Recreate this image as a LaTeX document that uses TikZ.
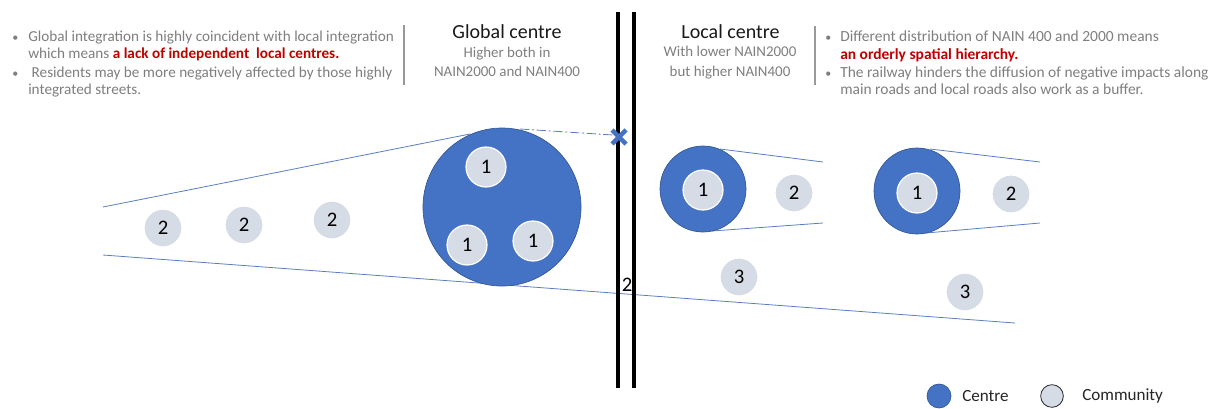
\documentclass[tikz,border=0pt]{standalone}
\usepackage{fontspec}
\setmainfont{Carlito}
\definecolor{cblue}{HTML}{4472C4}
\definecolor{cline}{HTML}{5A7FC0}
\definecolor{cgray}{HTML}{D6DCE5}
\definecolor{ctext}{HTML}{7F7F7F}
\definecolor{cred}{HTML}{C00000}
\begin{document}
\begin{tikzpicture}[x=0.75pt,y=-0.75pt,
  centre/.style={circle,fill=cblue,draw=cblue!75!black,line width=0.5pt,inner sep=0pt,minimum size=#1},
  comm/.style={circle,fill=cgray,draw=white,line width=0.9pt,inner sep=0pt,minimum size=#1,
    font=\fontsize{15.5}{15}\selectfont},
  comm/.default=30pt,
  road/.style={draw=cline,line width=0.6pt},
  rail/.style={draw=black,line width=2.6pt},
  sep/.style={draw=ctext!80,line width=0.9pt},
  body/.style={anchor=base west,inner sep=0pt,text=ctext,font=\fontsize{11.6}{13}\selectfont},
  lbody/.style={anchor=base west,inner sep=0pt,text=ctext,font=\fontsize{11.4}{13}\selectfont},
  bul/.style={anchor=base west,inner sep=0pt,text=ctext,font=\fontsize{9}{13}\selectfont},
  title/.style={anchor=base,inner sep=0pt,text=black!90,font=\fontsize{15}{18}\selectfont},
  sub/.style={anchor=base,inner sep=0pt,text=ctext,font=\fontsize{11.2}{13}\selectfont},
  key/.style={anchor=west,inner sep=0pt,text=black!85,font=\fontsize{12.8}{14}\selectfont},
]
\useasboundingbox[fill=white] (0,0) rectangle (1213,408);

% ---- left explanatory text ----
\node[bul] (lb1) at (12,41) {•};
\node[lbody] (lt1) at (28,41) {Global integration is highly coincident with local integration};
\node[lbody] (lt2) at (28,58.5) {which means \textcolor{cred}{\bfseries a lack of independent\ \ local centres.}};
\node[bul] (lb2) at (12,77) {•};
\node[lbody] (lt3) at (28,77) {\ Residents may be more negatively affected by those highly};
\node[lbody] (lt4) at (28,94.5) {integrated streets.};
\coordinate (s1a) at (404,25);
\coordinate (s1b) at (404,85);
\draw[sep] (s1a) -- (s1b);

% ---- headings ----
\node[title] (gt) at (507,38) {Global centre};
\node[sub] (gs1) at (507,57) {Higher both in};
\node[sub] (gs2) at (507,76) {NAIN2000 and NAIN400};
\node[title] (lt) at (730.5,38) {Local centre};
\node[sub] (ls1) at (730,56) {With lower NAIN2000};
\node[sub] (ls2) at (730,76) {but higher NAIN400};

% ---- right explanatory text ----
\coordinate (s2a) at (815,26);
\coordinate (s2b) at (815,85);
\draw[sep] (s2a) -- (s2b);
\node[bul] (rb1) at (825,41) {•};
\node[body] (rt1) at (840,41) {Different distribution of NAIN 400 and 2000 means};
\node[body] (rt2) at (840,59) {\textcolor{cred}{\bfseries an orderly spatial hierarchy.}};
\node[bul] (rb2) at (825,77) {•};
\node[body] (rt3) at (840,77) {The railway hinders the diffusion of negative impacts along};
\node[body] (rt4) at (840,94.5) {main roads and local roads also work as a buffer.};

% ---- roads ----
\coordinate (ua) at (103,207);
\coordinate (ub) at (470,134);
\coordinate (da) at (520,129);
\coordinate (db) at (613,135);
\coordinate (la) at (103,255);
\coordinate (lb) at (1015,323);
\draw[road] (ua) -- (ub);
\draw[road,dash pattern=on 7pt off 2pt on 1.5pt off 2pt] (da) -- (db);
\draw[road] (la) -- (lb);

\coordinate (a1) at (720,149);
\coordinate (a2) at (823,162);
\coordinate (a3) at (712,231);
\coordinate (a4) at (823,223);
\draw[road] (a1) -- (a2);
\draw[road] (a3) -- (a4);
\coordinate (b1) at (930,149);
\coordinate (b2) at (1040,162);
\coordinate (b3) at (926,233);
\coordinate (b4) at (1040,223);
\draw[road] (b1) -- (b2);
\draw[road] (b3) -- (b4);

% ---- railway ----
\coordinate (r1t) at (618,12);
\coordinate (r1b) at (618,388);
\coordinate (r2t) at (634,12);
\coordinate (r2b) at (634,388);
\draw[rail] (r1t) -- (r1b);
\draw[rail] (r2t) -- (r2b);
\node[inner sep=0pt,font=\fontsize{15.5}{15}\selectfont] (rl) at (627,285) {2};

% blocked crossing
\coordinate (xc) at (619,137);
\draw[draw=cblue,line width=3.4pt] ([shift={(-7,-7)}]xc) -- ([shift={(7,7)}]xc)
  ([shift={(-7,7)}]xc) -- ([shift={(7,-7)}]xc);

% ---- global centre ----
\node[centre=118.5pt] (gc) at (502,207) {};
\node[comm] (g1) at (486,167) {1};
\node[comm] (g2) at (467,245) {1};
\node[comm] (g3) at (533,241) {1};
\node[comm=28.5pt] (gn1) at (163,228) {2};
\node[comm=28.5pt] (gn2) at (244,225) {2};
\node[comm=28.5pt] (gn3) at (332,220) {2};

% ---- local centres ----
\node[centre=64.5pt] (lc1) at (703,189) {};
\node[comm] (l11) at (703,190) {1};
\node[comm=28.5pt] (l12) at (794,193) {2};
\node[comm=28.5pt] (l13) at (739,277) {3};
\node[centre=64.5pt] (lc2) at (917,191) {};
\node[comm] (l21) at (917,193) {1};
\node[comm=28.5pt] (l22) at (1011,194) {2};
\node[comm=28.5pt] (l23) at (965,292) {3};

% ---- legend ----
\node[centre=18pt] (kc) at (939,396) {};
\node[key] (kct) at (962,396) {Centre};
\node[circle,fill=cgray,draw=black!85,line width=0.6pt,inner sep=0pt,minimum size=17pt] (km) at (1052,396) {};
\node[key] (kmt) at (1082,396) {Community};
\end{tikzpicture}
\end{document}
